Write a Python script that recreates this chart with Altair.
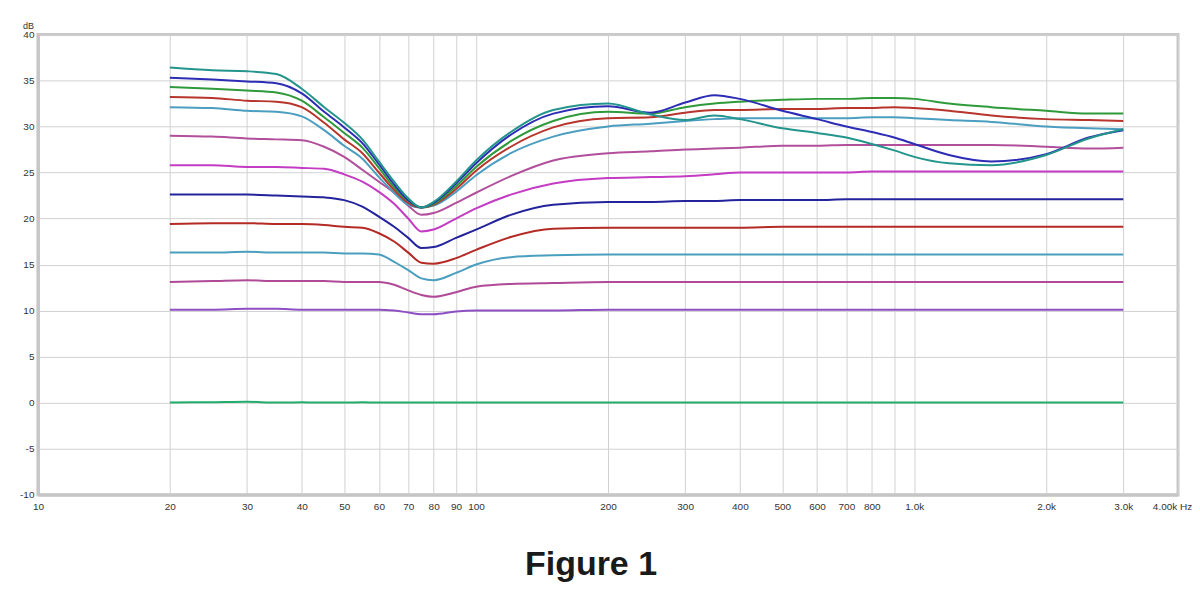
import altair as alt
import pandas as pd

freqs = [20, 25, 30, 35, 40, 45, 50, 55, 60, 65, 70, 75, 80, 90, 100, 120, 150,
         200, 250, 300, 350, 400, 500, 600, 700, 800, 900, 1000, 1200, 1500,
         2000, 2500, 3000]

teal = [36.4, 36.1, 36.0, 35.7, 34.1, 32.1, 30.4, 28.6, 26.2, 24.0, 22.2, 21.2, 21.8, 24.0, 26.3, 29.4, 31.8,
        32.5, 31.3, 30.7, 31.2, 30.8, 29.8, 29.3, 28.8, 28.1, 27.4, 26.7, 26.0, 25.8,
        26.9, 28.7, 29.7]
blue = [35.3, 35.1, 34.9, 34.7, 33.6, 31.6, 29.9, 28.2, 25.9, 23.7, 22.0, 21.2, 21.7, 23.8, 26.0, 29.1, 31.4,
        32.2, 31.5, 32.6, 33.4, 33.0, 31.7, 30.8, 30.0, 29.4, 28.8, 28.1, 26.9, 26.2,
        27.0, 28.8, 29.6]
green = [34.3, 34.1, 33.9, 33.7, 32.8, 31.0, 29.3, 27.7, 25.5, 23.4, 21.9, 21.2, 21.6, 23.5, 25.6, 28.4, 30.6,
         31.6, 31.4, 32.1, 32.5, 32.7, 32.9, 33.0, 33.0, 33.1, 33.1, 33.0, 32.5, 32.1,
         31.7, 31.4, 31.4]
red = [33.2, 33.1, 32.8, 32.7, 32.1, 30.4, 28.6, 27.1, 25.0, 23.1, 21.7, 21.2, 21.5, 23.2, 25.2, 27.8, 29.9,
       30.9, 31.0, 31.5, 31.8, 31.8, 31.9, 31.9, 32.0, 32.0, 32.1, 32.0, 31.7, 31.2,
       30.8, 30.7, 30.6]
light_blue = [32.1, 32.0, 31.7, 31.6, 31.1, 29.6, 27.9, 26.5, 24.5, 22.8, 21.5, 21.2, 21.4, 22.9, 24.7, 27.1, 28.9,
              30.0, 30.3, 30.6, 30.8, 30.9, 30.9, 30.9, 30.9, 31.0, 31.0, 30.9, 30.7, 30.5,
              30.0, 29.8, 29.7]
mauve = [29.0, 28.9, 28.7, 28.6, 28.5, 27.8, 26.7, 25.3, 24.0, 22.8, 21.4, 20.4, 20.6, 21.7, 22.8, 24.6, 26.3,
         27.1, 27.3, 27.5, 27.6, 27.7, 27.9, 27.9, 28.0, 28.0, 28.0, 28.0, 28.0, 28.0,
         27.8, 27.6, 27.7]
magenta = [25.8, 25.8, 25.6, 25.6, 25.5, 25.4, 24.8, 24.0, 22.9, 21.6, 20.0, 18.6, 18.8, 20.0, 21.1, 22.6, 23.8,
           24.4, 24.5, 24.6, 24.8, 25.0, 25.0, 25.0, 25.0, 25.1, 25.1, 25.1, 25.1, 25.1,
           25.1, 25.1, 25.1]
dark_blue = [22.6, 22.6, 22.6, 22.5, 22.4, 22.3, 22.0, 21.3, 20.2, 19.1, 17.9, 16.8, 16.9, 17.9, 18.8, 20.4, 21.5,
             21.8, 21.8, 21.9, 21.9, 22.0, 22.0, 22.0, 22.1, 22.1, 22.1, 22.1, 22.1, 22.1,
             22.1, 22.1, 22.1]
red_2 = [19.4, 19.5, 19.5, 19.4, 19.4, 19.3, 19.1, 19.0, 18.4, 17.5, 16.3, 15.2, 15.1, 15.7, 16.6, 18.0, 18.9,
         19.0, 19.0, 19.0, 19.0, 19.0, 19.1, 19.1, 19.1, 19.1, 19.1, 19.1, 19.1, 19.1,
         19.1, 19.1, 19.1]
light_blue_2 = [16.3, 16.3, 16.4, 16.3, 16.3, 16.3, 16.2, 16.2, 16.1, 15.3, 14.4, 13.5, 13.3, 14.1, 15.0, 15.8, 16.0,
                16.1, 16.1, 16.1, 16.1, 16.1, 16.1, 16.1, 16.1, 16.1, 16.1, 16.1, 16.1, 16.1,
                16.1, 16.1, 16.1]
mauve_2 = [13.1, 13.2, 13.3, 13.2, 13.2, 13.2, 13.1, 13.1, 13.1, 12.8, 12.2, 11.7, 11.5, 12.0, 12.6, 12.9, 13.0,
           13.1, 13.1, 13.1, 13.1, 13.1, 13.1, 13.1, 13.1, 13.1, 13.1, 13.1, 13.1, 13.1,
           13.1, 13.1, 13.1]
purple = [10.1, 10.1, 10.2, 10.2, 10.1, 10.1, 10.1, 10.1, 10.1, 10.0, 9.8, 9.6, 9.6, 9.9, 10.0, 10.0, 10.0,
          10.1, 10.1, 10.1, 10.1, 10.1, 10.1, 10.1, 10.1, 10.1, 10.1, 10.1, 10.1, 10.1,
          10.1, 10.1, 10.1]
green_0 = [0.0, 0.05, 0.1, 0.0, 0.05, 0.0, 0.0, 0.05, 0.0, 0.0, 0.0, 0.0, 0.0, 0.0, 0.0, 0.0, 0.0,
           0.0, 0.0, 0.0, 0.0, 0.0, 0.0, 0.0, 0.0, 0.0, 0.0, 0.0, 0.0, 0.0,
           0.0, 0.0, 0.0]

series = {
    "purple": purple,
    "mauve_2": mauve_2,
    "light_blue_2": light_blue_2,
    "red_2": red_2,
    "dark_blue": dark_blue,
    "magenta": magenta,
    "mauve": mauve,
    "light_blue": light_blue,
    "red": red,
    "green": green,
    "blue": blue,
    "teal": teal,
    "green_0": green_0,
}
colors = {
    "purple": "#8e4fc4",
    "mauve_2": "#b04a98",
    "light_blue_2": "#4a9fbf",
    "red_2": "#b42a24",
    "dark_blue": "#23239c",
    "magenta": "#c43cc4",
    "mauve": "#b24f9c",
    "light_blue": "#4b9ec0",
    "red": "#b7352c",
    "green": "#2f9a3a",
    "blue": "#2c2cb4",
    "teal": "#24958c",
    "green_0": "#22ad6c",
}

rows = []
for name, vals in series.items():
    for f, v in zip(freqs, vals):
        rows.append({"series": name, "freq": f, "db": v})
df = pd.DataFrame(rows)

x_ticks = [10, 20, 30, 40, 50, 60, 70, 80, 90, 100, 200, 300, 400, 500, 600,
           700, 800, 900, 1000, 2000, 3000, 4000]
y_ticks = [-10, -5, 0, 5, 10, 15, 20, 25, 30, 35, 40]

x_label_expr = ("datum.value == 900 ? '' : datum.value == 4000 ? '4.00k Hz' : "
                "datum.value >= 1000 ? format(datum.value / 1000, '.1f') + 'k' : datum.label")
y_label_expr = "'' + datum.value"

chart = alt.Chart(df).mark_line(strokeWidth=2, interpolate="monotone").encode(
    x=alt.X("freq:Q",
            scale=alt.Scale(type="log", domain=[10, 4000], nice=False),
            axis=alt.Axis(values=x_ticks, labelExpr=x_label_expr, title=None,
                          tickSize=0, labelPadding=7, labelFlush=False,
                          labelOffset={"condition": {"test": "datum.value == 4000", "value": -6},
                                       "value": 0},
                          labelOverlap=False, domainColor="#c6c6c6", domainWidth=3,
                          gridColor="#d2d2d2", labelFontSize=10, labelColor="#333333",
                          labelFont="Liberation Sans")),
    y=alt.Y("db:Q",
            scale=alt.Scale(domain=[-10, 40], nice=False),
            axis=alt.Axis(values=y_ticks, labelExpr=y_label_expr,
                          title="dB", titleAngle=0, titleX=-10,
                          titleY=-4, titleAlign="center", titleBaseline="bottom",
                          titleFontSize=9, titleFontWeight="normal", titleColor="#333333",
                          titleFont="Liberation Sans",
                          tickSize=0, labelPadding=4, labelFlush=False,
                          domainColor="#c6c6c6", domainWidth=3,
                          gridColor="#d2d2d2", labelFontSize=10, labelColor="#333333",
                          labelFont="Liberation Sans")),
    color=alt.Color("series:N",
                    scale=alt.Scale(domain=list(colors.keys()), range=list(colors.values())),
                    legend=None),
    order=alt.Order("freq:Q"),
).properties(
    width=1142,
    height=461,
    autosize=alt.AutoSizeParams(type="none"),
    padding={"left": 30, "top": 26, "right": 14, "bottom": 90},
    title=alt.TitleParams("Figure 1", orient="bottom", anchor="middle", dx=-17,
                          offset=36, fontSize=34, fontWeight="bold",
                          font="Liberation Sans", color="#1a1a1a"),
).configure_view(stroke="#c6c6c6", strokeWidth=3)

chart.save("out.html", embed_options={"renderer": "svg", "actions": False})
